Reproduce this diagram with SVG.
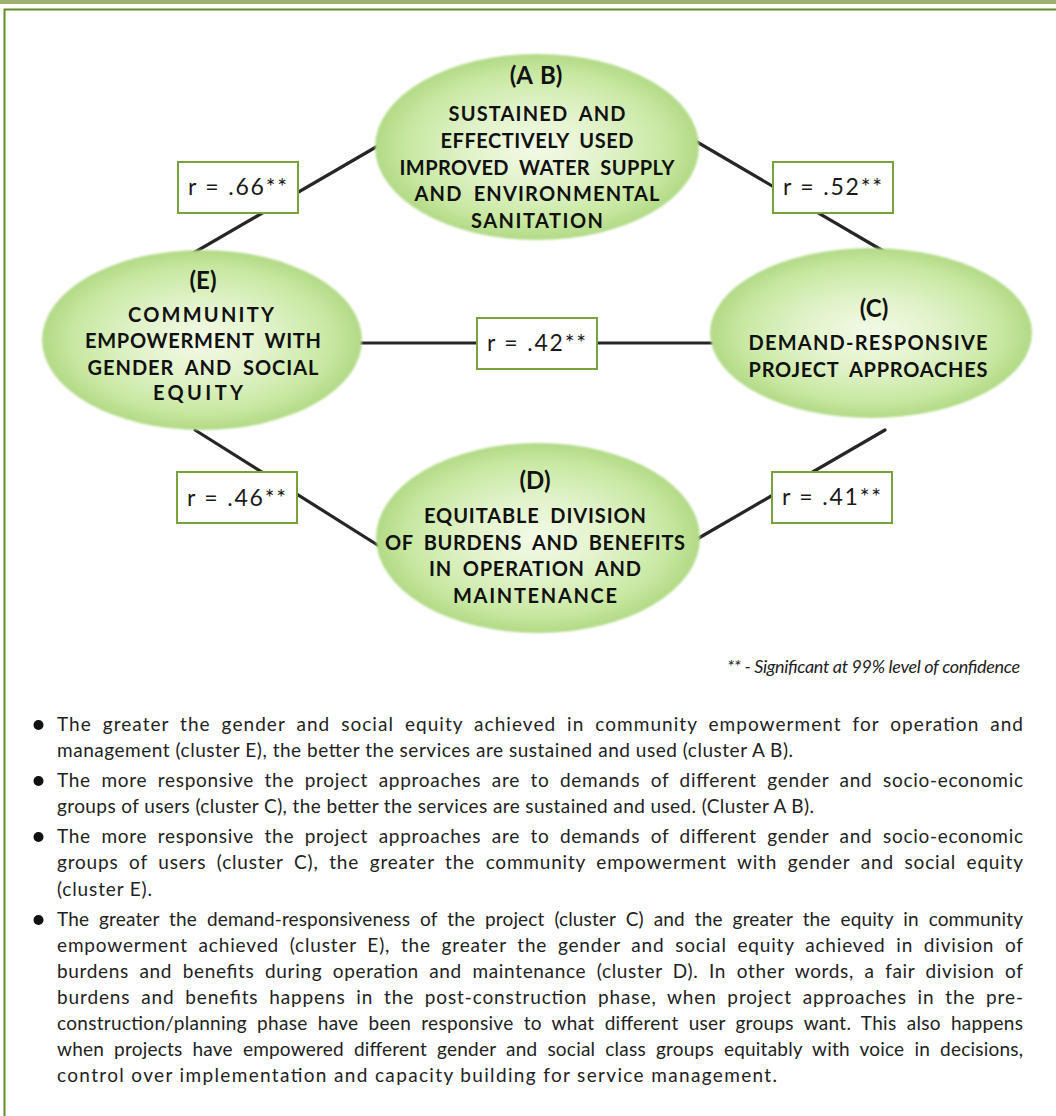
<svg xmlns="http://www.w3.org/2000/svg" width="1056" height="1116" viewBox="0 0 1056 1116">
  <defs>
    <radialGradient id="cluster-fill" cx="50%" cy="50%" r="50%">
      <stop offset="0" stop-color="#f3fae8"/>
      <stop offset="0.45" stop-color="#e0f2c8"/>
      <stop offset="0.8" stop-color="#c8e8a2"/>
      <stop offset="1" stop-color="#b2da86"/>
    </radialGradient>
    <filter id="soft" x="-10%" y="-10%" width="120%" height="120%">
      <feGaussianBlur stdDeviation="1.2"/>
    </filter>
    <style>
      .cluster { fill: url(#cluster-fill); filter: url(#soft); }
      .link { stroke: #262624; stroke-width: 3.2; fill: none; stroke-linecap: round; }
      .rbox { fill: #ffffff; stroke: #7aa23c; stroke-width: 2; }
      .rtxt { font-family: "Lato", "Liberation Sans", sans-serif; font-size: 23px; fill: #1a1a1a; }
      .head { font-family: "Lato", "Liberation Sans", sans-serif; font-weight: 700; font-size: 20px; word-spacing: 5px; fill: #111; text-anchor: middle; }
      .tag { font-family: "Lato", "Liberation Sans", sans-serif; font-weight: 700; font-size: 24px; word-spacing: 2px; fill: #111; text-anchor: middle; }
      .body { font-family: "Lato", "Liberation Sans", sans-serif; font-size: 19px; fill: #222; }
      .just { word-spacing: 5px; }
      .note { font-family: "Lato", "Liberation Sans", sans-serif; font-style: italic; font-size: 18px; fill: #222; }
    </style>
  </defs>

  <!-- page frame -->
  <rect x="0" y="0" width="1056" height="4" fill="#9cb06e"/>
  <rect x="4.5" y="9.5" width="1200" height="1200" fill="#ffffff" stroke="#5f8d2c" stroke-width="2"/>

  <!-- correlations between clusters -->
  <g id="connectors">
    <line class="link" x1="190" y1="255" x2="395" y2="136"/>
    <line class="link" x1="680" y1="132" x2="885" y2="252"/>
    <line class="link" x1="340" y1="343" x2="730" y2="343" stroke-width="3.5"/>
    <line class="link" x1="195" y1="430" x2="395" y2="556"/>
    <line class="link" x1="685" y1="546" x2="885" y2="430"/>
  </g>

  <g id="cluster-ab">
    <ellipse class="cluster" cx="537" cy="147" rx="162" ry="93"/>
    <text class="tag" x="536" y="84">(A B)</text>
    <text class="head" x="537" y="121" textLength="177">SUSTAINED AND</text>
    <text class="head" x="537" y="148" textLength="193">EFFECTIVELY USED</text>
    <text class="head" x="537" y="175" textLength="275">IMPROVED WATER SUPPLY</text>
    <text class="head" x="537" y="201" textLength="245">AND ENVIRONMENTAL</text>
    <text class="head" x="537" y="228" textLength="132">SANITATION</text>
  </g>

  <g id="cluster-e">
    <ellipse class="cluster" cx="202" cy="340" rx="160" ry="90"/>
    <text class="tag" x="203" y="289">(E)</text>
    <text class="head" x="201" y="322" textLength="146">COMMUNITY</text>
    <text class="head" x="203" y="348" textLength="236">EMPOWERMENT WITH</text>
    <text class="head" x="203" y="375" textLength="231">GENDER AND SOCIAL</text>
    <text class="head" x="198" y="400" textLength="90">EQUITY</text>
  </g>

  <g id="cluster-c">
    <ellipse class="cluster" cx="871" cy="333" rx="161" ry="85"/>
    <text class="tag" x="874" y="317">(C)</text>
    <text class="head" x="868" y="350" textLength="239">DEMAND-RESPONSIVE</text>
    <text class="head" x="868" y="377" textLength="239">PROJECT APPROACHES</text>
  </g>

  <g id="cluster-d">
    <ellipse class="cluster" cx="538" cy="538" rx="162" ry="95"/>
    <text class="tag" x="535" y="489">(D)</text>
    <text class="head" x="535" y="523" textLength="222">EQUITABLE DIVISION</text>
    <text class="head" x="535" y="550" textLength="300">OF BURDENS AND BENEFITS</text>
    <text class="head" x="535" y="576" textLength="212">IN OPERATION AND</text>
    <text class="head" x="535" y="603" textLength="164">MAINTENANCE</text>
  </g>

  <!-- correlation coefficients -->
  <g id="r-ab-e">
    <rect class="rbox" x="178" y="162" width="120" height="51"/>
    <text class="rtxt" x="188" y="195" textLength="99">r = .66**</text>
  </g>
  <g id="r-ab-c">
    <rect class="rbox" x="773" y="162" width="120" height="51"/>
    <text class="rtxt" x="783" y="195" textLength="99">r = .52**</text>
  </g>
  <g id="r-e-c">
    <rect class="rbox" x="477" y="318" width="120" height="51"/>
    <text class="rtxt" x="487" y="351" textLength="99">r = .42**</text>
  </g>
  <g id="r-e-d">
    <rect class="rbox" x="177" y="472" width="120" height="51"/>
    <text class="rtxt" x="187" y="506" textLength="99">r = .46**</text>
  </g>
  <g id="r-c-d">
    <rect class="rbox" x="772" y="472" width="120" height="51"/>
    <text class="rtxt" x="782" y="505" textLength="99">r = .41**</text>
  </g>

  <text class="note" x="727" y="673" textLength="293">** - Significant at 99% level of confidence</text>

  <!-- findings -->
  <g id="findings">
    <circle cx="38.5" cy="725" r="5" fill="#111"/>
    <circle cx="38.5" cy="781" r="5" fill="#111"/>
    <circle cx="38.5" cy="837" r="5" fill="#111"/>
    <circle cx="38.5" cy="920" r="5" fill="#111"/>
    <text class="body just" x="57" y="731" textLength="966">The greater the gender and social equity achieved in community empowerment for operation and</text>
    <text class="body" x="57" y="757" textLength="736">management (cluster E), the better the services are sustained and used (cluster A B).</text>
    <text class="body just" x="57" y="787" textLength="966">The more responsive the project approaches are to demands of different gender and socio-economic</text>
    <text class="body" x="57" y="813" textLength="757">groups of users (cluster C), the better the services are sustained and used. (Cluster A B).</text>
    <text class="body just" x="57" y="843" textLength="966">The more responsive the project approaches are to demands of different gender and socio-economic</text>
    <text class="body just" x="57" y="869" textLength="966">groups of users (cluster C), the greater the community empowerment with gender and social equity</text>
    <text class="body" x="57" y="896" textLength="95">(cluster E).</text>
    <text class="body just" x="57" y="926" textLength="966">The greater the demand-responsiveness of the project (cluster C) and the greater the equity in community</text>
    <text class="body just" x="57" y="952" textLength="966">empowerment achieved (cluster E), the greater the gender and social equity achieved in division of</text>
    <text class="body just" x="57" y="978" textLength="966">burdens and benefits during operation and maintenance (cluster D). In other words, a fair division of</text>
    <text class="body just" x="57" y="1004" textLength="966">burdens and benefits happens in the post-construction phase, when project approaches in the pre-</text>
    <text class="body just" x="57" y="1030" textLength="966">construction/planning phase have been responsive to what different user groups want. This also happens</text>
    <text class="body just" x="57" y="1056" textLength="966">when projects have empowered different gender and social class groups equitably with voice in decisions,</text>
    <text class="body" x="57" y="1082" textLength="720">control over implementation and capacity building for service management.</text>
  </g>
</svg>
